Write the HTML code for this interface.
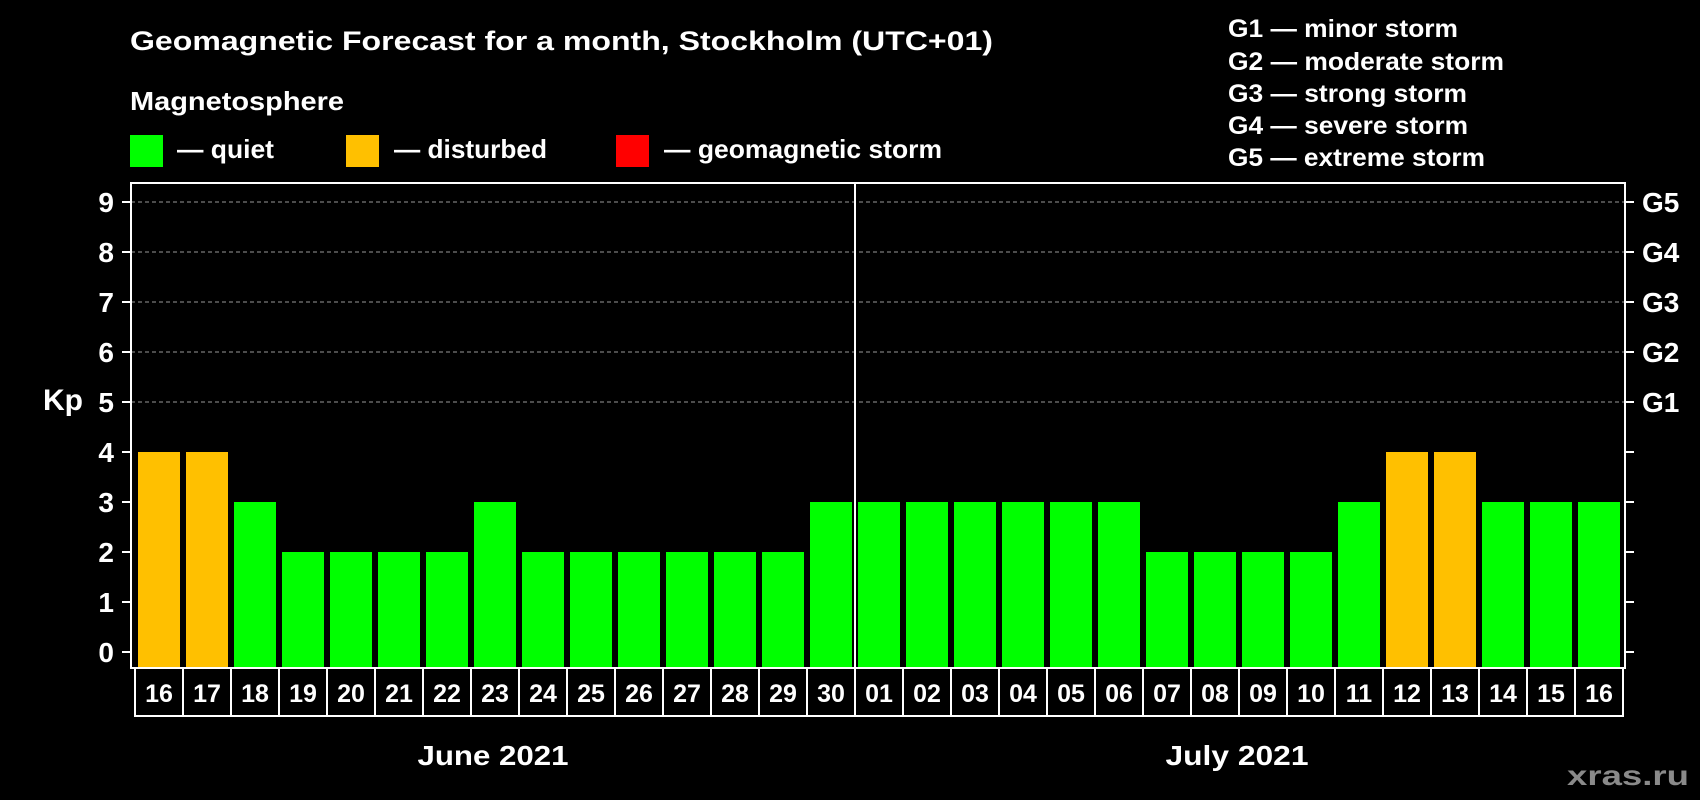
<!DOCTYPE html>
<html><head><meta charset="utf-8"><style>
html,body{margin:0;padding:0;background:#000;width:1700px;height:800px;overflow:hidden}
svg text{font-family:"Liberation Sans",Arial,sans-serif;font-weight:bold;fill:#fff}
</style></head><body>
<svg id="chart" width="1700" height="800" viewBox="0 0 1700 800">
<rect width="1700" height="800" fill="#000"/>
<text x="130" y="50" font-size="27" textLength="863" lengthAdjust="spacingAndGlyphs">Geomagnetic Forecast for a month, Stockholm (UTC+01)</text>
<text x="130" y="110" font-size="26" textLength="214" lengthAdjust="spacingAndGlyphs">Magnetosphere</text>
<rect x="130" y="135" width="33" height="32" fill="#00ff00"/>
<text x="177" y="158" font-size="26" textLength="97" lengthAdjust="spacingAndGlyphs">— quiet</text>
<rect x="346" y="135" width="33" height="32" fill="#ffc000"/>
<text x="394" y="158" font-size="26" textLength="153" lengthAdjust="spacingAndGlyphs">— disturbed</text>
<rect x="616" y="135" width="33" height="32" fill="#ff0000"/>
<text x="664" y="158" font-size="26" textLength="278" lengthAdjust="spacingAndGlyphs">— geomagnetic storm</text>
<text x="1228" y="37" font-size="25" textLength="230" lengthAdjust="spacingAndGlyphs">G1 — minor storm</text>
<text x="1228" y="70" font-size="25" textLength="276" lengthAdjust="spacingAndGlyphs">G2 — moderate storm</text>
<text x="1228" y="102" font-size="25" textLength="239" lengthAdjust="spacingAndGlyphs">G3 — strong storm</text>
<text x="1228" y="134" font-size="25" textLength="240" lengthAdjust="spacingAndGlyphs">G4 — severe storm</text>
<text x="1228" y="166" font-size="25" textLength="257" lengthAdjust="spacingAndGlyphs">G5 — extreme storm</text>
<text x="43" y="410" font-size="30">Kp</text>
<text x="493" y="765" font-size="28" text-anchor="middle" textLength="151" lengthAdjust="spacingAndGlyphs">June 2021</text>
<text x="1237" y="765" font-size="28" text-anchor="middle" textLength="143" lengthAdjust="spacingAndGlyphs">July 2021</text>
<text x="1689" y="785" font-size="28" text-anchor="end" style="fill:#8a8a8a" textLength="122" lengthAdjust="spacingAndGlyphs">xras.ru</text>
<g id="plot"></g>
</svg>
<script>
const days = ["16","17","18","19","20","21","22","23","24","25","26","27","28","29","30","01","02","03","04","05","06","07","08","09","10","11","12","13","14","15","16"];
const kpValues = [4,4,3,2,2,2,2,3,2,2,2,2,2,2,3,3,3,3,3,3,3,2,2,2,2,3,4,4,3,3,3];
const yTicks = [0,1,2,3,4,5,6,7,8,9];
const gLabels = ["G1","G2","G3","G4","G5"];
const gLevels = [5,6,7,8,9];
const monthSplitIndex = 15;

const NS = "http://www.w3.org/2000/svg";
const g = document.getElementById("plot");
const L = 131, R = 1625, T = 183, B = 668;
const slotX0 = 135, slotW = 48, barW = 42;
const y = v => 652 - v * 50;
const x = i => slotX0 + i * slotW;
function mk(tag, attrs){const e=document.createElementNS(NS,tag);for(const k in attrs)e.setAttribute(k,attrs[k]);g.appendChild(e);return e;}

yTicks.forEach(t=>{
  if(t>=5){
    const gl=mk("line",{x1:L,x2:R,y1:y(t),y2:y(t),stroke:"#999","stroke-width":1,"stroke-dasharray":"4,3"});
    
    
  }
  const tl=mk("line",{x1:122,x2:L,y1:y(t),y2:y(t),stroke:"#fff","stroke-width":2});
  
  
  const tr=mk("line",{x1:R,x2:1634,y1:y(t),y2:y(t),stroke:"#fff","stroke-width":2});
  
  
  const lab=mk("text",{x:114,y:y(t)+10,"font-size":28,"text-anchor":"end"});
  lab.textContent=t;
  
  
});
gLabels.forEach((s,i)=>{
  const t=mk("text",{x:1642,y:y(gLevels[i])+10,"font-size":28});
  t.textContent=s;
  
  
});
kpValues.forEach((v,i)=>{
  const col = v>=5 ? "#ff0000" : (v>=4 ? "#ffc000" : "#00ff00");
  const b=mk("rect",{x:x(i)+3,y:y(v),width:barW,height:B-1-y(v),fill:col});
  
  
  const box=mk("rect",{x:x(i),y:B,width:slotW,height:48,fill:"none",stroke:"#fff","stroke-width":2});
  
  
  const dl=mk("text",{x:x(i)+slotW/2,y:B+34,"font-size":25,"text-anchor":"middle"});
  dl.textContent=days[i];
  
  
});
const frame=mk("rect",{x:L,y:T,width:R-L,height:B-T,fill:"none",stroke:"#fff","stroke-width":2});


const div=mk("line",{x1:x(monthSplitIndex),x2:x(monthSplitIndex),y1:T,y2:B,stroke:"#fff","stroke-width":2});


</script>
</body></html>
